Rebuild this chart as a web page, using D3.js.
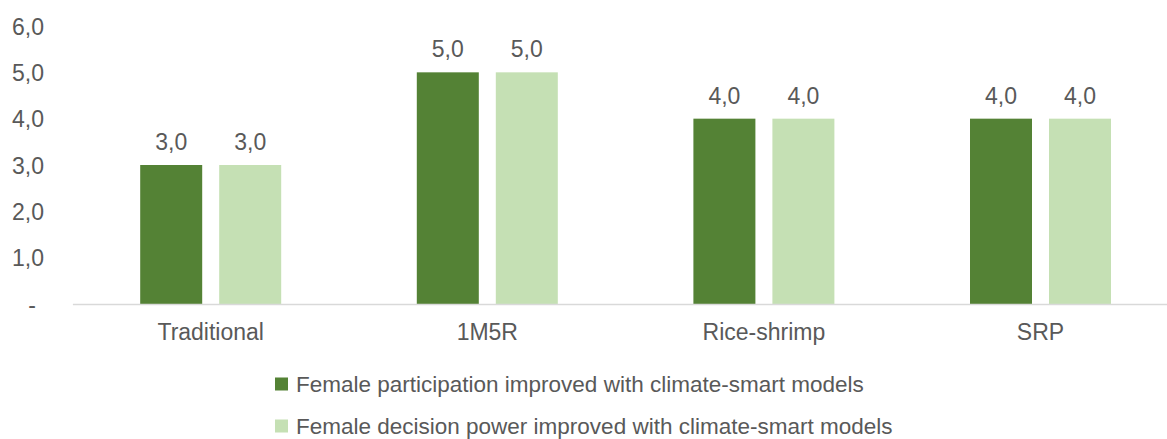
<!DOCTYPE html>
<html>
<head>
<meta charset="utf-8">
<script src="https://cdn.jsdelivr.net/npm/d3@7/dist/d3.min.js"></script>
<style>
  html, body { margin: 0; padding: 0; background: #fff; }
  svg { display: block; font-family: "Liberation Sans", Arial, sans-serif; }
</style>
</head>
<body>
<svg id="chart" width="1167" height="439"></svg>
<script>
// Farming models compared
const categories = ["Traditional", "1M5R", "Rice-shrimp", "SRP"];
// Scores per model for each series
const participation = [3, 5, 4, 4];
const decisionPower = [3, 5, 4, 4];
const seriesNames = [
  "Female participation improved with climate-smart models",
  "Female decision power improved with climate-smart models"
];
const seriesColors = ["#548235", "#c5e0b4"];
const yTicks = [0, 1, 2, 3, 4, 5, 6];

const series = [participation, decisionPower];
const svg = d3.select("#chart");
const textColor = "#595959";
const fontSize = 23;
const legendFontSize = 22.5;

const x = d3.scaleBand().domain(categories).range([72.4, 1178.8]).paddingInner(0).paddingOuter(0);
const y = d3.scaleLinear().domain([0, 6]).range([304, 26]);
const barW = 62, barGap = 17;

const fmt = v => v === 0 ? "-" : d3.format(".1f")(v).replace(".", ",");

// Y axis labels only (no line, no gridlines)
const yAxis = d3.axisLeft(y).tickValues(yTicks).tickFormat(fmt).tickSize(0).tickPadding(0);
const gy = svg.append("g").attr("transform", "translate(44,0)").call(yAxis);
gy.select(".domain").remove();
gy.selectAll("text").attr("fill", textColor).style("font-size", fontSize + "px")
  .style("font-family", "'Liberation Sans', Arial, sans-serif").attr("dy", "0.35em");
gy.selectAll("text").filter(d => d === 0).attr("dx", -8);

// Bars with value labels
const groupW = barW * 2 + barGap;
categories.forEach((c, ci) => {
  const gx = x(c) + (x.bandwidth() - groupW) / 2;
  series.forEach((s, si) => {
    const bx = gx + si * (barW + barGap);
    svg.append("rect")
      .attr("x", bx).attr("y", y(s[ci]))
      .attr("width", barW).attr("height", y(0) - y(s[ci]))
      .attr("fill", seriesColors[si]);
    svg.append("text")
      .attr("x", bx + barW / 2).attr("y", y(s[ci]) - 15)
      .attr("text-anchor", "middle").attr("fill", textColor)
      .style("font-size", fontSize + "px")
      .text(fmt(s[ci]));
  });
});

// X axis baseline and category labels
const xAxis = d3.axisBottom(x).tickSize(0).tickPadding(0);
const gx = svg.append("g").attr("transform", `translate(0,${y(0)})`).call(xAxis);
gx.select(".domain").attr("stroke", "#d9d9d9").attr("stroke-width", 1.5);
gx.selectAll("text").attr("fill", textColor).style("font-size", fontSize + "px")
  .style("font-family", "'Liberation Sans', Arial, sans-serif")
  .attr("dy", null).attr("y", 36);

// Legend
const legend = svg.append("g");
seriesNames.forEach((name, i) => {
  const ly = 384 + i * 42;
  legend.append("rect").attr("x", 275).attr("y", ly - 6.5).attr("width", 13).attr("height", 13)
    .attr("fill", seriesColors[i]);
  legend.append("text").attr("x", 296).attr("y", ly).attr("dy", "0.35em")
    .attr("fill", textColor).style("font-size", legendFontSize + "px").text(name);
});
</script>
</body>
</html>
